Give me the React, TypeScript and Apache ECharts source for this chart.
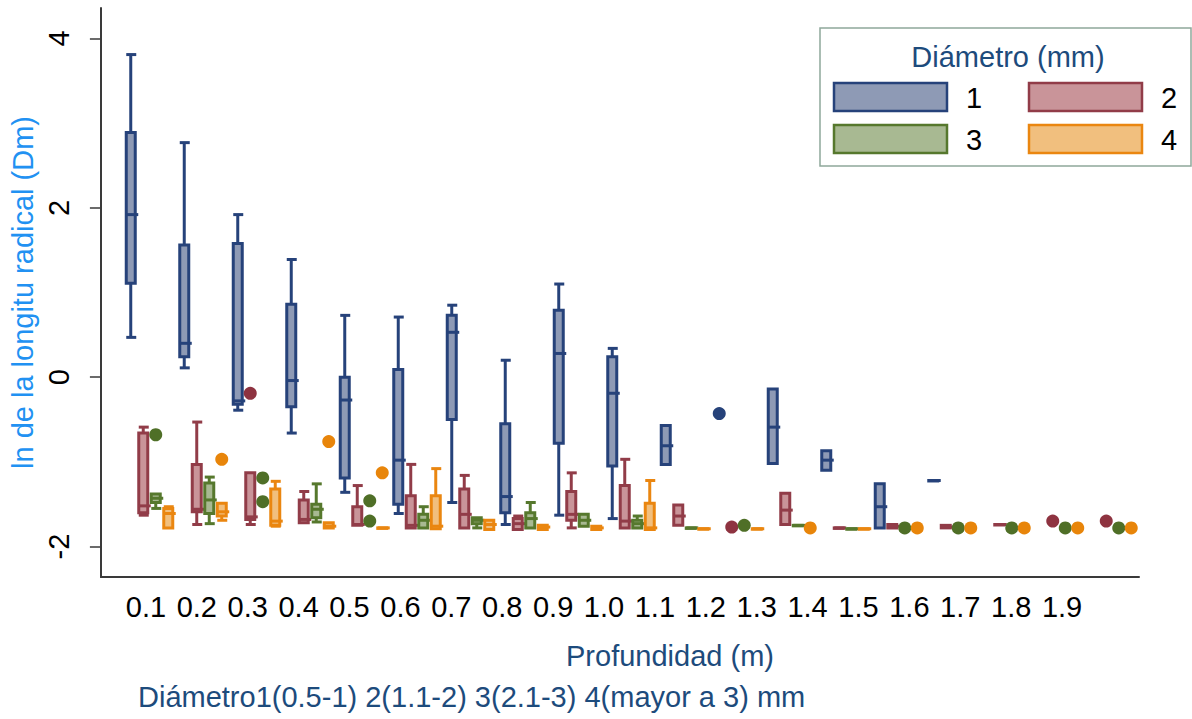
import React, { useEffect, useRef } from "react";
import * as echarts from "echarts";

// Depth classes (m) on the horizontal axis
const depths = [
  "0.1", "0.2", "0.3", "0.4", "0.5", "0.6", "0.7", "0.8", "0.9", "1.0",
  "1.1", "1.2", "1.3", "1.4", "1.5", "1.6", "1.7", "1.8", "1.9",
];

// Box statistics per depth: [min, q1, median, q3, max]; null = no box
const diam1Boxes: (number[] | null)[] = [
  [0.47, 1.11, 1.92, 2.89, 3.81],
  [0.11, 0.24, 0.4, 1.56, 2.77],
  [-0.39, -0.32, -0.28, 1.58, 1.92],
  [-0.66, -0.35, -0.04, 0.86, 1.39],
  [-1.36, -1.19, -0.27, 0.0, 0.73],
  [-1.61, -1.5, -0.98, 0.09, 0.71],
  [-1.48, -0.5, 0.53, 0.73, 0.85],
  [-1.74, -1.6, -1.41, -0.55, 0.2],
  [-1.63, -0.78, 0.28, 0.79, 1.1],
  [-1.67, -1.05, -0.19, 0.24, 0.34],
  [-1.03, -1.03, -0.81, -0.57, -0.57],
  null,
  [-1.02, -1.02, -0.59, -0.14, -0.14],
  [-1.1, -1.1, -0.98, -0.87, -0.87],
  [-1.78, -1.78, -1.53, -1.26, -1.26],
  [-1.22, -1.22, -1.22, -1.22, -1.22],
  null,
  null,
  null,
];

const diam2Boxes: (number[] | null)[] = [
  [-1.63, -1.6, -1.52, -0.66, -0.59],
  [-1.74, -1.59, -1.56, -1.03, -0.53],
  [-1.74, -1.68, -1.65, -1.13, -1.13],
  [-1.72, -1.72, -1.68, -1.45, -1.35],
  [-1.75, -1.75, -1.74, -1.53, -1.28],
  [-1.78, -1.78, -1.75, -1.4, -1.03],
  [-1.78, -1.78, -1.62, -1.32, -1.16],
  [-1.8, -1.8, -1.73, -1.67, -1.64],
  [-1.78, -1.69, -1.62, -1.35, -1.13],
  [-1.78, -1.78, -1.7, -1.28, -0.97],
  [-1.75, -1.75, -1.64, -1.51, -1.51],
  null,
  [-1.74, -1.74, -1.57, -1.37, -1.37],
  [-1.78, -1.78, -1.78, -1.78, -1.78],
  [-1.78, -1.78, -1.76, -1.74, -1.74],
  [-1.78, -1.78, -1.77, -1.75, -1.75],
  [-1.74, -1.74, -1.74, -1.74, -1.74],
  null,
  null,
];

const diam3Boxes: (number[] | null)[] = [
  [-1.55, -1.48, -1.43, -1.38, -1.38],
  [-1.73, -1.61, -1.45, -1.25, -1.18],
  null,
  [-1.71, -1.66, -1.56, -1.5, -1.26],
  null,
  [-1.78, -1.78, -1.69, -1.62, -1.53],
  [-1.78, -1.73, -1.69, -1.66, -1.66],
  [-1.78, -1.78, -1.67, -1.6, -1.48],
  [-1.76, -1.76, -1.69, -1.62, -1.62],
  [-1.78, -1.78, -1.73, -1.69, -1.64],
  [-1.78, -1.78, -1.78, -1.78, -1.78],
  null,
  [-1.75, -1.75, -1.75, -1.75, -1.75],
  [-1.79, -1.79, -1.79, -1.79, -1.79],
  null,
  null,
  null,
  null,
  null,
];

const diam4Boxes: (number[] | null)[] = [
  [-1.78, -1.78, -1.61, -1.55, -1.53],
  [-1.69, -1.64, -1.59, -1.49, -1.49],
  [-1.76, -1.75, -1.7, -1.32, -1.23],
  [-1.78, -1.78, -1.76, -1.72, -1.72],
  [-1.78, -1.78, -1.78, -1.78, -1.78],
  [-1.79, -1.79, -1.76, -1.4, -1.08],
  [-1.8, -1.8, -1.74, -1.69, -1.69],
  [-1.8, -1.8, -1.77, -1.75, -1.75],
  [-1.8, -1.8, -1.78, -1.76, -1.76],
  [-1.8, -1.8, -1.78, -1.49, -1.22],
  [-1.79, -1.79, -1.79, -1.79, -1.79],
  [-1.79, -1.79, -1.79, -1.79, -1.79],
  null,
  [-1.79, -1.79, -1.79, -1.79, -1.79],
  null,
  null,
  null,
  null,
  null,
];

// Outside values: [depth index, value]
const diam1Outliers: [number, number][] = [[11, -0.43]];
const diam2Outliers: [number, number][] = [
  [2, -0.19], [11, -1.77], [17, -1.7], [18, -1.7],
];
const diam3Outliers: [number, number][] = [
  [0, -0.68], [2, -1.19], [2, -1.47], [4, -1.46], [4, -1.7], [11, -1.75],
  [14, -1.78], [15, -1.78], [16, -1.78], [17, -1.78], [18, -1.78],
];
const diam4Outliers: [number, number][] = [
  [1, -0.97], [3, -0.76], [4, -1.13], [12, -1.78], [14, -1.78],
  [15, -1.78], [16, -1.78], [17, -1.78], [18, -1.78],
];

const yTicks = [-2, 0, 2, 4];
const yMin = -2.36;
const yMax = 4.36;

const diameterNames = ["1", "2", "3", "4"];

const FONT = "'Liberation Sans', Arial, sans-serif";
const TITLE_BLUE = "#1d4b7c";

const palette = [
  { stroke: "#26427a", fill: "#8e9ab5", dot: "#26427a" },
  { stroke: "#913c48", fill: "#c99499", dot: "#8e3340" },
  { stroke: "#56782d", fill: "#a8b992", dot: "#4f6f27" },
  { stroke: "#ea8610", fill: "#f1bf7e", dot: "#e8850a" },
];

// Horizontal shift of each diameter's box inside a depth group (px)
const groupOffsets = [-18.75, -6.25, 6.25, 18.75];
const BOX_HALF = 4.5;
const LINE_W = 3;

function boxSeries(idx: number, boxes: (number[] | null)[]) {
  const data = boxes
    .map((b, i) => (b ? [i, ...b] : null))
    .filter((d) => d !== null) as number[][];
  const col = palette[idx];
  const off = groupOffsets[idx];
  return {
    type: "custom",
    name: diameterNames[idx],
    xAxisIndex: 1,
    yAxisIndex: 1,
    encode: { x: 0, y: [1, 2, 3, 4, 5] },
    data,
    z: 3,
    renderItem: (_params: any, api: any) => {
      const cat = api.value(0);
      const mn = api.value(1);
      const q1 = api.value(2);
      const md = api.value(3);
      const q3 = api.value(4);
      const mx = api.value(5);
      const x = api.coord([cat, md])[0] + off;
      const py = (v: number) => api.coord([cat, v])[1];
      const lineStyle = { stroke: col.stroke, lineWidth: LINE_W };
      const children: any[] = [];
      if (mx > q3) {
        children.push({
          type: "line",
          shape: { x1: x, y1: py(mx), x2: x, y2: py(q3) },
          style: lineStyle,
        });
        children.push({
          type: "line",
          shape: { x1: x - BOX_HALF, y1: py(mx), x2: x + BOX_HALF + 1, y2: py(mx) },
          style: lineStyle,
        });
      }
      if (mn < q1) {
        children.push({
          type: "line",
          shape: { x1: x, y1: py(q1), x2: x, y2: py(mn) },
          style: lineStyle,
        });
        children.push({
          type: "line",
          shape: { x1: x - BOX_HALF, y1: py(mn), x2: x + BOX_HALF + 1, y2: py(mn) },
          style: lineStyle,
        });
      }
      children.push({
        type: "rect",
        shape: {
          x: x - BOX_HALF,
          y: py(q3),
          width: BOX_HALF * 2,
          height: Math.max(py(q1) - py(q3), 0.5),
        },
        style: { fill: col.fill, stroke: col.stroke, lineWidth: LINE_W },
      });
      children.push({
        type: "line",
        shape: { x1: x - BOX_HALF, y1: py(md), x2: x + BOX_HALF + 3, y2: py(md) },
        style: lineStyle,
      });
      return { type: "group", children };
    },
  };
}

function outlierSeries(idx: number, pts: [number, number][]) {
  return {
    type: "scatter",
    name: diameterNames[idx] + " ",
    xAxisIndex: 1,
    yAxisIndex: 1,
    data: pts,
    symbol: "circle",
    symbolSize: 13,
    symbolOffset: [groupOffsets[idx], 0],
    itemStyle: { color: palette[idx].dot, opacity: 1 },
    z: 4,
  };
}

function legendGraphic() {
  const items: any[] = [
    {
      type: "rect",
      shape: { x: 820, y: 28, width: 371, height: 138 },
      style: { fill: "#ffffff", stroke: "#8fa89b", lineWidth: 1.5 },
    },
    {
      type: "text",
      x: 1008,
      y: 57,
      style: {
        text: "Diámetro (mm)",
        fill: TITLE_BLUE,
        font: `29px ${FONT}`,
        textAlign: "center",
        textVerticalAlign: "middle",
      },
    },
  ];
  const cells = [
    { x: 834, y: 83 },
    { x: 1029, y: 83 },
    { x: 834, y: 125 },
    { x: 1029, y: 125 },
  ];
  cells.forEach((c, i) => {
    items.push({
      type: "rect",
      shape: { x: c.x, y: c.y, width: 113, height: 28 },
      style: { fill: palette[i].fill, stroke: palette[i].stroke, lineWidth: 2.5 },
    });
    items.push({
      type: "text",
      x: c.x + 140,
      y: c.y + 15,
      style: {
        text: diameterNames[i],
        fill: "#000000",
        font: `29px ${FONT}`,
        textAlign: "center",
        textVerticalAlign: "middle",
      },
    });
  });
  return { type: "group", z: 100, children: items };
}

export default function App() {
  const ref = useRef<HTMLDivElement>(null);

  useEffect(() => {
    if (!ref.current) return;
    const chart = echarts.init(ref.current, undefined, { renderer: "svg" });
    const hiddenAxis = {
      show: false,
      axisLine: { show: false },
      axisTick: { show: false },
      axisLabel: { show: false },
      splitLine: { show: false },
    };
    const option: any = {
      animation: false,
      backgroundColor: "#ffffff",
      textStyle: { fontFamily: FONT },
      grid: [
        // frame with the axes
        { left: 97, right: 53, top: 8, bottom: 142 },
        // boxes
        { left: 122.75, right: 52.75, top: 8, bottom: 142 },
        // depth labels
        { left: 120.5, right: 104.5, top: 8, bottom: 142 },
      ],
      xAxis: [
        {
          gridIndex: 0,
          type: "value",
          min: 0,
          max: 1,
          axisLine: { show: true, onZero: false, lineStyle: { color: "#3a3a3a", width: 2 } },
          axisTick: { show: false },
          axisLabel: { show: false },
          splitLine: { show: false },
        },
        {
          gridIndex: 1,
          type: "category",
          data: depths,
          ...hiddenAxis,
        },
        {
          gridIndex: 2,
          type: "category",
          data: depths,
          axisLine: { show: false },
          axisTick: { show: false },
          splitLine: { show: false },
          axisLabel: {
            show: true,
            interval: 0,
            margin: 15,
            color: "#000000",
            fontSize: 29,
            fontFamily: FONT,
          },
        },
      ],
      yAxis: [
        {
          gridIndex: 0,
          type: "value",
          min: yMin,
          max: yMax,
          name: "ln de la longitu radical (Dm)",
          nameLocation: "middle",
          nameGap: 58,
          nameRotate: 90,
          nameTextStyle: { color: "#2191f2", fontSize: 29, fontFamily: FONT },
          axisLine: { show: true, onZero: false, lineStyle: { color: "#3a3a3a", width: 2 } },
          axisTick: {
            show: true,
            length: 11,
            customValues: yTicks,
            lineStyle: { color: "#3a3a3a", width: 1.5 },
          },
          axisLabel: {
            show: true,
            customValues: yTicks,
            rotate: 90,
            margin: 27,
            color: "#000000",
            fontSize: 29,
            fontFamily: FONT,
          },
          splitLine: { show: false },
        },
        { gridIndex: 1, type: "value", min: yMin, max: yMax, ...hiddenAxis },
        { gridIndex: 2, type: "value", min: 0, max: 1, ...hiddenAxis },
      ],
      series: [
        boxSeries(0, diam1Boxes),
        boxSeries(1, diam2Boxes),
        boxSeries(2, diam3Boxes),
        boxSeries(3, diam4Boxes),
        outlierSeries(0, diam1Outliers),
        outlierSeries(1, diam2Outliers),
        outlierSeries(2, diam3Outliers),
        outlierSeries(3, diam4Outliers),
      ],
      graphic: [
        legendGraphic(),
        {
          type: "text",
          x: 670,
          y: 656,
          style: {
            text: "Profundidad (m)",
            fill: TITLE_BLUE,
            font: `29px ${FONT}`,
            textAlign: "center",
            textVerticalAlign: "middle",
          },
        },
        {
          type: "text",
          x: 138,
          y: 697,
          style: {
            text: "Diámetro1(0.5-1) 2(1.1-2) 3(2.1-3) 4(mayor a 3) mm",
            fill: TITLE_BLUE,
            font: `29px ${FONT}`,
            textAlign: "left",
            textVerticalAlign: "middle",
          },
        },
      ],
    };
    chart.setOption(option);
    return () => chart.dispose();
  }, []);

  return (
    <div
      ref={ref}
      style={{ position: "absolute", left: 0, top: 0, width: 1192, height: 719 }}
    />
  );
}
